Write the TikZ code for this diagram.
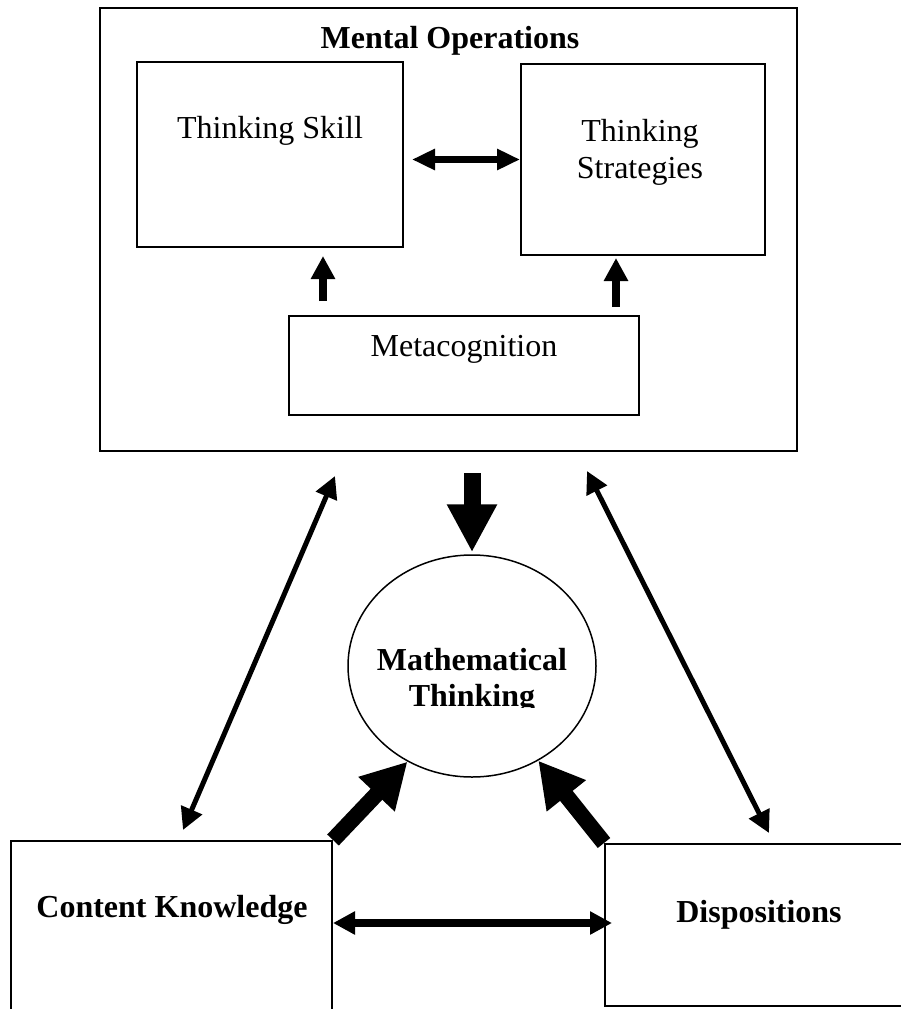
\documentclass[tikz,border=0pt]{standalone}
\usepackage{fontspec}
\setmainfont{Liberation Serif}
\usetikzlibrary{positioning,shapes.geometric,arrows.meta}

\begin{document}
\begin{tikzpicture}[x=1pt, y=-1pt,
    box/.style={draw, line width=2pt, inner sep=0pt},
    txt/.style={inner sep=0pt, align=center, font=\fontsize{32}{36.8}\selectfont},
    head/.style={inner sep=0pt, align=center, font=\fontsize{32}{36.8}\selectfont\bfseries},
    dblarrow/.style={line width=7pt, {Triangle[length=23pt,width=20pt]}-{Triangle[length=23pt,width=20pt]}},
    uparrow/.style={line width=8pt, -{Triangle[length=23pt,width=23pt]}},
    bigarrow/.style={line width=17pt, -{Triangle[length=48pt,width=47pt]}},
    thickarrow/.style={line width=16pt, -{Triangle[length=45pt,width=47pt]}},
    longarrow/.style={line width=5pt, {Triangle[length=22pt,width=22pt]}-{Triangle[length=22pt,width=22pt]}},
    basearrow/.style={line width=8pt, {Triangle[length=22pt,width=22pt]}-{Triangle[length=22pt,width=22pt]}}]
% Fix the page
\useasboundingbox (0,0) rectangle (901,1009);
\clip (0,0) rectangle (901,1009);

% Define the mental operations box
\node[box, minimum width=697pt, minimum height=443pt] (ops) at (448.5,229.5) {};
\node[head, anchor=base] (opstitle) at (450,48) {Mental Operations};
\node[box, minimum width=266pt, minimum height=185pt] (skill) at (270,154.5) {};
\node[txt, anchor=base] (skilltext) at (270,138) {Thinking Skill};
\node[box, minimum width=244pt, minimum height=191pt] (strat) at (643,159.5) {};
\node[txt] (strattext) at (640,152.5) {Thinking\\Strategies};
\node[box, minimum width=350pt, minimum height=99pt] (meta) at (464,365.5) {};
\node[txt, anchor=base] (metatext) at (464,356) {Metacognition};

% Define the centre and the two bottom boxes
\node[draw, ellipse, line width=1.5pt, inner sep=0pt, minimum width=248pt, minimum height=222pt] (math) at (472,666) {};
\begin{scope}
\clip (340,600) rectangle (610,707.5);
\node[head] (mathtext) at (472,681) {Mathematical\\Thinking};
\end{scope}
\node[box, minimum width=321pt, minimum height=200pt] (know) at (171.5,941) {};
\node[head, anchor=base] (knowtext) at (172,917) {Content Knowledge};
\node[box, minimum width=400pt, minimum height=162pt] (disp) at (805,925) {};
\node[head, anchor=base] (disptext) at (759,922) {Dispositions};

% Draw the arrows inside
\draw[dblarrow] ([xshift=8pt,yshift=-5pt]skill.east) -- (strat.west);
\draw[uparrow] ([xshift=-141pt,yshift=14pt]meta.north) -- ([xshift=53pt,yshift=-8pt]skill.south);
\draw[uparrow] ([xshift=152pt,yshift=8pt]meta.north) -- ([xshift=-27pt,yshift=-2pt]strat.south);

% Draw the arrows outside
\draw[bigarrow] ([xshift=23.5pt,yshift=-21pt]ops.south) -- ([yshift=2pt]math.north);
\draw[longarrow] ([xshift=11.5pt,yshift=10pt]know.north) -- ([xshift=-113.5pt,yshift=-24pt]ops.south);
\draw[longarrow] ([xshift=-36pt,yshift=10pt]disp.north) -- ([xshift=138.5pt,yshift=-19pt]ops.south);
\draw[thickarrow] (know.north east) -- (math.236);
\draw[thickarrow] (disp.north west) -- (math.305);
\draw[basearrow] ([yshift=18pt]know.east) -- ([xshift=8pt,yshift=2pt]disp.west);
\end{tikzpicture}
\end{document}
